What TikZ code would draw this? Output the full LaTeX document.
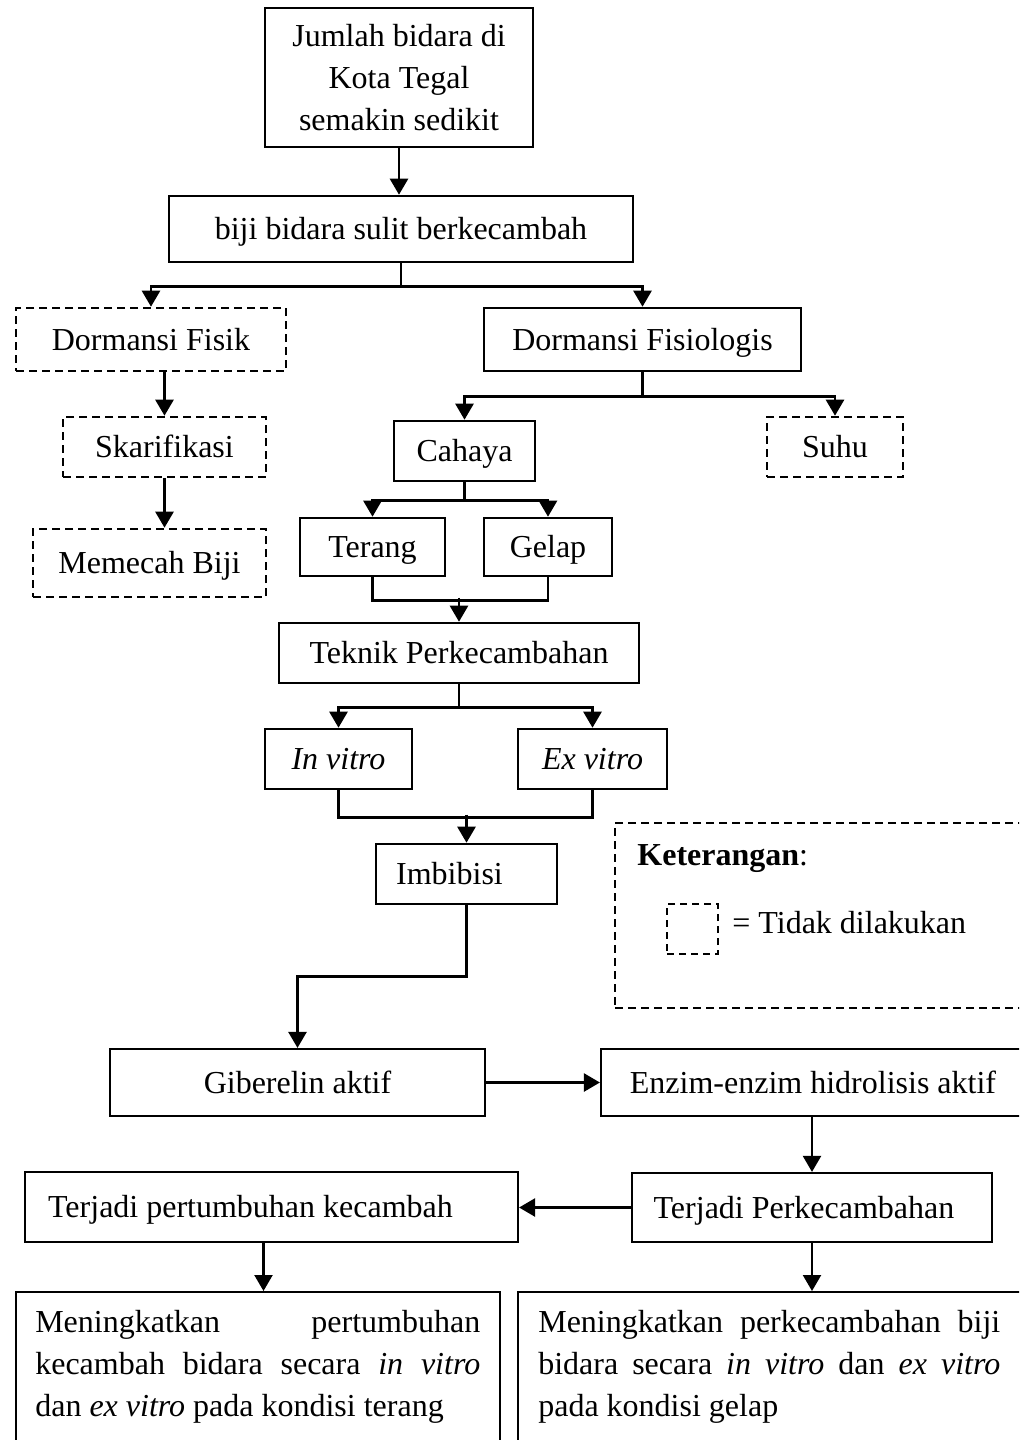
\documentclass[tikz,border=0pt]{standalone}
\usepackage{fontspec}
\setmainfont{Liberation Serif}
\usetikzlibrary{arrows.meta}

\begin{document}
\begin{tikzpicture}[x=0.5pt, y=-0.5pt,
                font=\fontsize{16}{21}\selectfont,
                box/.style={draw, line width=1.3pt, inner sep=0pt, text height=11pt, text depth=0.5pt},
                nobox/.style={box, dash pattern=on 4pt off 2.5pt},
                arr/.style={line width=1.3pt, -{Triangle[length=8pt,width=9pt]}},
                ln/.style={line width=1.3pt}]
                \useasboundingbox (0,0) rectangle (1019,1440);
                \clip (0,0) rectangle (1019,1440);
                \node[box, align=center, text height={}, text depth={}, minimum width=134pt, minimum height=69.5pt] (jumlah) at (399,77.5) {Jumlah bidara di\\Kota Tegal\\semakin sedikit};
                \node[box, minimum width=232pt, minimum height=33pt] (biji) at (401,229) {biji bidara sulit berkecambah};
                \node[nobox, minimum width=135pt, minimum height=31.5pt] (fisik) at (151,339.5) {Dormansi Fisik};
                \node[box, minimum width=158.5pt, minimum height=31.5pt] (fisiologis) at (642.5,339.5) {Dormansi Fisiologis};
                \node[nobox, minimum width=101.5pt, minimum height=30pt] (skarif) at (164.5,447) {Skarifikasi};
                \node[nobox, minimum width=116.5pt, minimum height=34pt] (memecah) at (149.5,563) {Memecah Biji};
                \node[box, minimum width=70.5pt, minimum height=30pt] (cahaya) at (464.5,451) {Cahaya};
                \node[nobox, minimum width=68pt, minimum height=30pt] (suhu) at (835,447) {Suhu};
                \node[box, minimum width=72.5pt, minimum height=29pt] (terang) at (372.5,547) {Terang};
                \node[box, minimum width=64pt, minimum height=29pt] (gelap) at (548,547) {Gelap};
                \node[box, minimum width=180pt, minimum height=30pt] (teknik) at (459,653) {Teknik Perkecambahan};
                \node[box, minimum width=73.5pt, minimum height=30pt] (invitro) at (338.5,759) {\textit{In vitro}};
                \node[box, minimum width=74.5pt, minimum height=30pt] (exvitro) at (592.5,759) {\textit{Ex vitro}};
                \node[box, minimum width=90.5pt, minimum height=30pt] (imbibisi) at (466.5,874) {Imbibisi\hspace{17pt}\mbox{}};
                \node[box, line width=1.1pt, minimum width=187.5pt, minimum height=33.5pt] (giberelin) at (297.5,1082.5) {Giberelin aktif};
                \node[box, line width=1.1pt, minimum width=212pt, minimum height=33.5pt] (enzim) at (813,1082.5) {Enzim-enzim hidrolisis aktif};
                \node[box, line width=1.1pt, minimum width=180pt, minimum height=34.5pt] (perkecambahan) at (812,1207.5) {Terjadi Perkecambahan\hspace{8pt}\mbox{}};
                \node[box, line width=1.1pt, minimum width=246.5pt, minimum height=35pt] (pertumbuhan) at (271.5,1207) {Terjadi pertumbuhan kecambah\hspace{21pt}\mbox{}};
                \node[box, line width=1.1pt, minimum width=242pt, minimum height=90pt, anchor=north] (hasilkiri) at (258,1291) {};
                \node[box, line width=1.1pt, minimum width=261pt, minimum height=90pt, anchor=north] (hasilkanan) at (779,1291) {};
                \node[anchor=north west, inner sep=0pt, text width=222.5pt, align=justify] (tekskiri) at ([xshift=10pt,yshift=-9.5pt]hasilkiri.north west)
                {Meningkatkan pertumbuhan\linebreak kecambah bidara secara \textit{in vitro}\linebreak dan \textit{ex vitro} pada kondisi terang};
                \node[anchor=north west, inner sep=0pt, text width=231pt, align=justify] (tekskanan) at ([xshift=10.5pt,yshift=-9.5pt]hasilkanan.north west)
                {Meningkatkan perkecambahan biji\linebreak bidara secara \textit{in vitro} dan \textit{ex vitro}\linebreak pada kondisi gelap};
                \node[nobox, minimum width=212.5pt, minimum height=92.5pt] (legenda) at (827.5,915.5) {};
                \node[anchor=base west, inner sep=0pt] (judul) at (637,865) {\textbf{Keterangan}:};
                \node[nobox, minimum width=25.5pt, minimum height=25pt, dash pattern=on 3.5pt off 2.5pt] (kotak) at (692.5,929) {};
                \node[anchor=base west, inner sep=0pt] (arti) at (732,933) {= Tidak dilakukan};
                \draw[arr] (jumlah.south) -- (jumlah.south |- biji.north);
                \draw[arr] (biji.south) -- ++(0,23) -| (fisik.north);
                \draw[arr] (biji.south) -- ++(0,23) -| (fisiologis.north);
                \draw[arr] (fisik.south -| skarif.north) -- (skarif.north);
                \draw[arr] (skarif.south) -- (skarif.south |- memecah.north);
                \draw[arr] (fisiologis.south) -- ++(0,24) -| (cahaya.north);
                \draw[arr] (fisiologis.south) -- ++(0,24) -| (suhu.north);
                \draw[arr] (cahaya.south) -- ++(0,18) -| (terang.north);
                \draw[arr] (cahaya.south) -- ++(0,18) -| (gelap.north);
                \draw[ln] (terang.south) -- ++(0,23) -| (gelap.south);
                \draw[arr] (teknik.north) ++(0,-24) -- (teknik.north);
                \draw[arr] (teknik.south) -- ++(0,23) -| (invitro.north);
                \draw[arr] (teknik.south) -- ++(0,23) -| (exvitro.north);
                \draw[ln] (invitro.south) -- ++(0,27) -| (exvitro.south);
                \draw[arr] (imbibisi.north) ++(0,-28) -- (imbibisi.north);
                \draw[arr] (imbibisi.south) -- ++(0,71) -| (giberelin.north);
                \draw[arr] (giberelin.east) -- (enzim.west);
                \draw[arr, line width=1.1pt] (perkecambahan.north |- enzim.south) -- (perkecambahan.north);
                \draw[arr] (perkecambahan.west) -- (perkecambahan.west -| pertumbuhan.east);
                \draw[arr, line width=1.1pt] ([xshift=-4pt]pertumbuhan.south) -- ([xshift=-4pt]pertumbuhan.south |- hasilkiri.north);
                \draw[arr, line width=1.1pt] (perkecambahan.south) -- (perkecambahan.south |- hasilkanan.north);
            \end{tikzpicture}
\end{document}
